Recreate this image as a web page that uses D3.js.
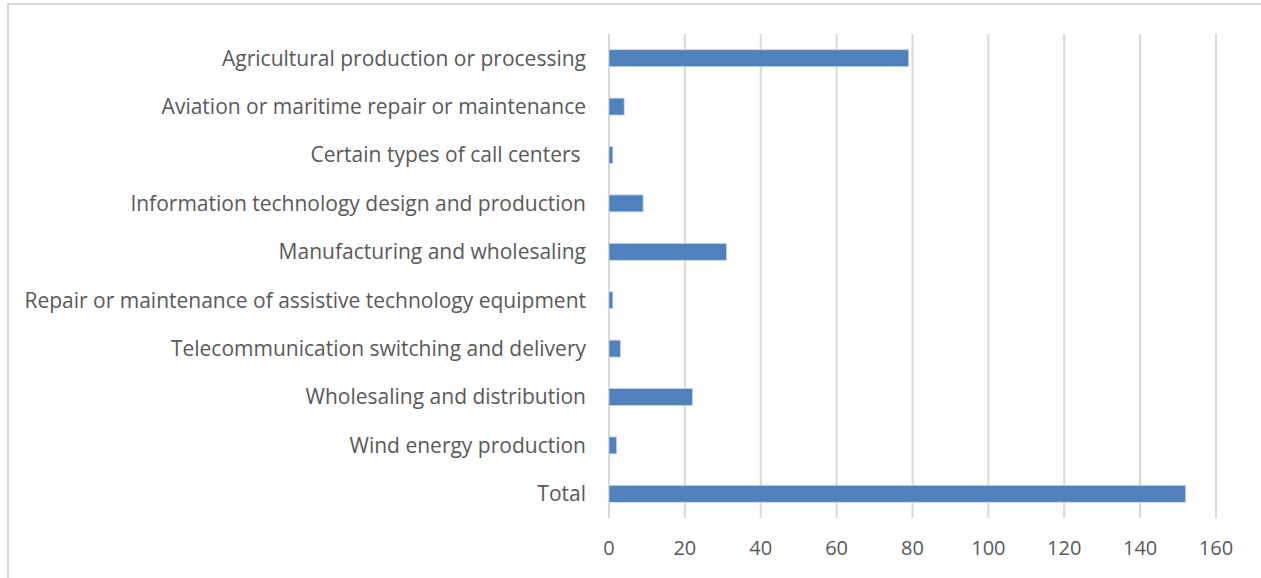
<!DOCTYPE html>
<html>
<head>
<meta charset="utf-8">
<script src="https://cdn.jsdelivr.net/npm/d3@7"></script>
<style>
  body { margin: 0; background: #fff; }
  text { font-family: "Open Sans", sans-serif; fill: #595959; }
</style>
</head>
<body>
<script>
const width = 1261;
const height = 578;

// chart data
const categories = [
  "Agricultural production or processing",
  "Aviation or maritime repair or maintenance",
  "Certain types of call centers ",
  "Information technology design and production",
  "Manufacturing and wholesaling",
  "Repair or maintenance of assistive technology equipment",
  "Telecommunication switching and delivery",
  "Wholesaling and distribution",
  "Wind energy production",
  "Total"
];
const values = [79, 4, 1, 9, 31, 1, 3, 22, 2, 152];
const xTicks = [0, 20, 40, 60, 80, 100, 120, 140, 160];

const margin = { top: 34, right: 45, bottom: 60, left: 609 };

const svg = d3.select("body")
  .append("svg")
  .attr("width", width)
  .attr("height", height);

// chart border (left and top edges visible)
svg.append("path")
  .attr("d", `M8,${height + 2} V4 H${width + 2}`)
  .attr("fill", "none")
  .attr("stroke", "#d9d9d9")
  .attr("stroke-width", 2);

const x = d3.scaleLinear()
  .domain([0, 160])
  .range([margin.left, 1216]);

const y = d3.scaleBand()
  .domain(categories)
  .range([margin.top, 518])
  .paddingInner(0.65)
  .paddingOuter(0.325);

// vertical gridlines
svg.append("g")
  .selectAll("line")
  .data(xTicks)
  .join("line")
  .attr("x1", (d) => x(d))
  .attr("x2", (d) => x(d))
  .attr("y1", margin.top)
  .attr("y2", 518)
  .attr("stroke", "#d9d9d9")
  .attr("stroke-width", 2);

// bars
svg.append("g")
  .selectAll("rect")
  .data(values)
  .join("rect")
  .attr("x", x(0))
  .attr("y", (d, i) => y(categories[i]))
  .attr("width", (d) => x(d) - x(0))
  .attr("height", y.bandwidth())
  .attr("fill", "#4f81bd")
  .attr("stroke", "#c6d5ea")
  .attr("stroke-width", 0.8);

// category labels
svg.append("g")
  .selectAll("text")
  .data(categories)
  .join("text")
  .attr("x", 586)
  .attr("y", (d) => y(d) + y.bandwidth() / 2)
  .attr("dy", "0.35em")
  .attr("text-anchor", "end")
  .style("font-size", "21px")
  .style("white-space", "pre")
  .text((d) => d);

// x tick labels
svg.append("g")
  .selectAll("text")
  .data(xTicks)
  .join("text")
  .attr("x", (d) => x(d))
  .attr("y", 548)
  .attr("dy", "0.35em")
  .attr("text-anchor", "middle")
  .style("font-size", "20px")
  .text((d) => d);
</script>
</body>
</html>
